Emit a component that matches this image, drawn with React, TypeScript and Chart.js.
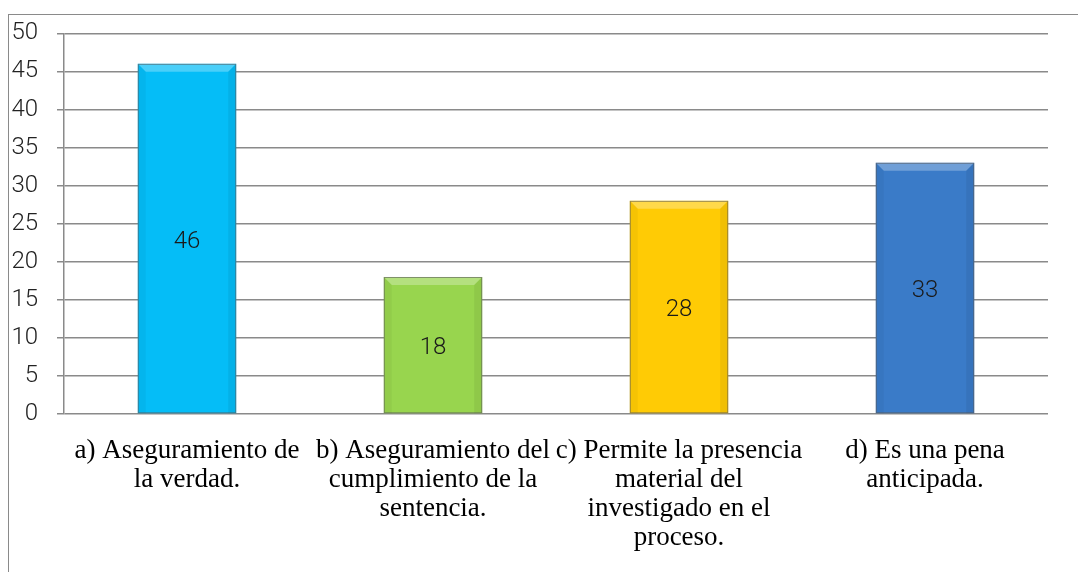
import React, { useEffect, useRef } from "react";
import { Chart, registerables } from "chart.js";

Chart.register(...registerables);

const categories: string[][] = [
  ["a) Aseguramiento de", "la verdad."],
  ["b) Aseguramiento del", "cumplimiento de la", "sentencia."],
  ["c) Permite la presencia", "material del", "investigado en el", "proceso."],
  ["d) Es una pena", "anticipada."],
];
const values: number[] = [46, 18, 28, 33];
const barColors: string[] = ["#05BDF7", "#98D54E", "#FFCB05", "#3A7BC8"];
const yTicks: number[] = [0, 5, 10, 15, 20, 25, 30, 35, 40, 45, 50];

const sansFamily = "Roboto, Lato, 'Open Sans', sans-serif";

const valueLabels = {
  id: "valueLabels",
  afterDatasetsDraw(chart: any) {
    const ctx = chart.ctx;
    const meta = chart.getDatasetMeta(0);
    ctx.save();
    meta.data.forEach((bar: any) => {
      const left = bar.x - bar.width / 2;
      const right = bar.x + bar.width / 2;
      const top = bar.y;
      const base = bar.base;
      const b = 8;
      ctx.beginPath();
      ctx.moveTo(left, top);
      ctx.lineTo(right, top);
      ctx.lineTo(right - b, top + b);
      ctx.lineTo(left + b, top + b);
      ctx.closePath();
      ctx.fillStyle = "rgba(255,255,255,0.28)";
      ctx.fill();
      ctx.beginPath();
      ctx.moveTo(left, top);
      ctx.lineTo(left + b, top + b);
      ctx.lineTo(left + b, base);
      ctx.lineTo(left, base);
      ctx.closePath();
      ctx.fillStyle = "rgba(0,0,0,0.04)";
      ctx.fill();
      ctx.beginPath();
      ctx.moveTo(right, top);
      ctx.lineTo(right - b, top + b);
      ctx.lineTo(right - b, base);
      ctx.lineTo(right, base);
      ctx.closePath();
      ctx.fillStyle = "rgba(0,0,0,0.06)";
      ctx.fill();
      ctx.strokeStyle = "rgba(90,90,90,0.6)";
      ctx.lineWidth = 1;
      ctx.strokeRect(left + 0.5, top + 0.5, bar.width - 1, base - top - 1);
    });
    ctx.font = "300 24px " + sansFamily;
    ctx.fillStyle = "#1a1a1a";
    ctx.textAlign = "center";
    ctx.textBaseline = "middle";
    meta.data.forEach((bar: any, i: number) => {
      const y = (bar.y + bar.base) / 2 + 3;
      ctx.fillText(String(values[i]), bar.x, y);
    });
    ctx.restore();
  },
};

export default function App() {
  const ref = useRef<HTMLCanvasElement | null>(null);
  useEffect(() => {
    document.body.style.margin = "0";
    const chart = new Chart(ref.current!, {
      type: "bar",
      data: {
        labels: categories,
        datasets: [
          {
            data: values,
            backgroundColor: barColors,
            borderWidth: 0,
            categoryPercentage: 1,
            barPercentage: 0.4,
          },
        ],
      },
      options: {
        animation: false,
        responsive: false,
        maintainAspectRatio: false,
        layout: { padding: { left: 8, right: 30, top: 29, bottom: 0 } },
        plugins: { legend: { display: false }, tooltip: { enabled: false } },
        scales: {
          x: {
            grid: { display: false, drawTicks: false },
            border: { display: false },
            ticks: {
              color: "#000",
              font: { family: "'Liberation Serif', 'Times New Roman', serif", size: 27, lineHeight: "29px" as any },
              padding: 22,
              maxRotation: 0,
              autoSkip: false,
            },
            afterFit: (s: any) => {
              s.height = 158;
            },
          },
          y: {
            min: 0,
            max: 50,
            afterBuildTicks: (s: any) => {
              s.ticks = yTicks.map((v) => ({ value: v }));
            },
            grid: { color: "#8a8a8a", lineWidth: 1.5, tickLength: 7 },
            border: { display: true, color: "#8a8a8a", width: 1.5 },
            ticks: { color: "#222", font: { family: sansFamily, size: 24, weight: "300" as any }, padding: 19 },
            afterFit: (s: any) => {
              s.width = 56;
            },
          },
        },
      },
      plugins: [valueLabels],
    });
    return () => chart.destroy();
  }, []);
  return (
    <div style={{ position: "relative", width: 1078, height: 572, background: "#fff" }}>
      <div
        style={{
          position: "absolute",
          left: 8,
          top: 14,
          width: 1080,
          height: 580,
          border: "1.5px solid #8a8a8a",
          boxSizing: "border-box",
        }}
      />
      <canvas ref={ref} width={1078} height={572} style={{ position: "absolute", left: 0, top: 0 }} />
    </div>
  );
}
